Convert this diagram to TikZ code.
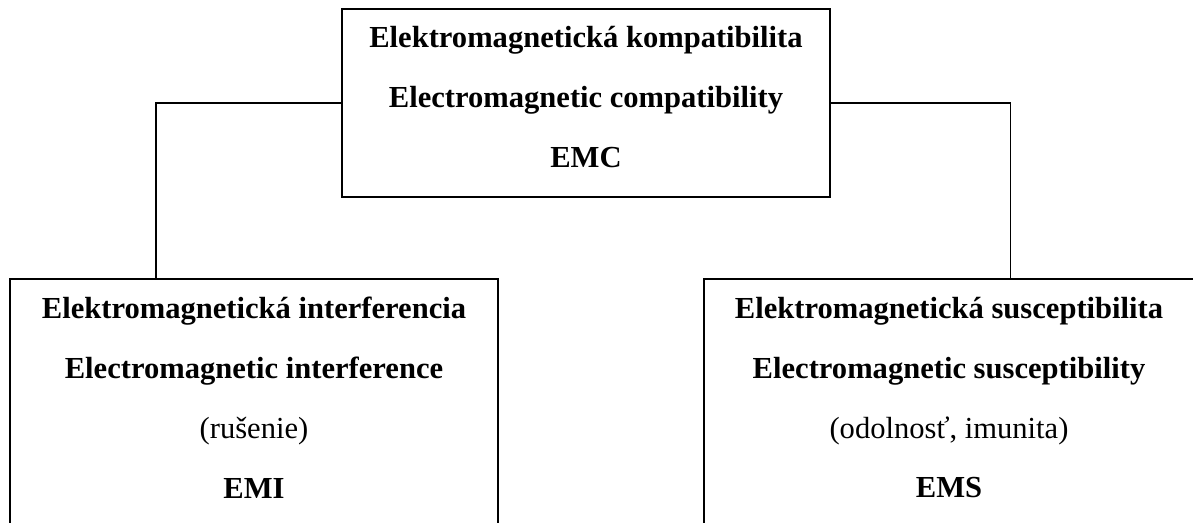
\documentclass[tikz,border=0pt]{standalone}
\usepackage{fontspec}
\setmainfont{Liberation Serif}
\usetikzlibrary{positioning, calc}

\begin{document}
\begin{tikzpicture}[
        x=0.02cm, y=-0.02cm,
        box/.style={draw, line width=0.8pt, align=center, font=\fontsize{17.4}{34}\selectfont\bfseries},
        conn/.style={line width=0.8pt}
    ]
        \clip (0,0) rectangle (1193,523);
        \node[box, minimum width=9.76cm, minimum height=3.76cm, text depth=7pt] (emc) at (586,103) {Elektromagnetická kompatibilita\\Electromagnetic compatibility\\EMC};
        \node[box, minimum width=9.76cm, minimum height=4.96cm, text depth=6pt] (emi) at (254,403) {Elektromagnetická interferencia\\Electromagnetic interference\\{\mdseries (rušenie)}\\EMI};
        \node[box, minimum width=9.8cm, minimum height=4.96cm, text depth=6pt] (ems) at (949,403) {Elektromagnetická susceptibilita\\Electromagnetic susceptibility\\{\mdseries (odolnosť, imunita)}\\EMS};
        \draw[conn] (emc.west) -| ($(emi.north west)!0.3!(emi.north east)$);
        \draw[conn] (emc.east) -| ($(ems.north west)!0.625!(ems.north east)$);
    \end{tikzpicture}
\end{document}
